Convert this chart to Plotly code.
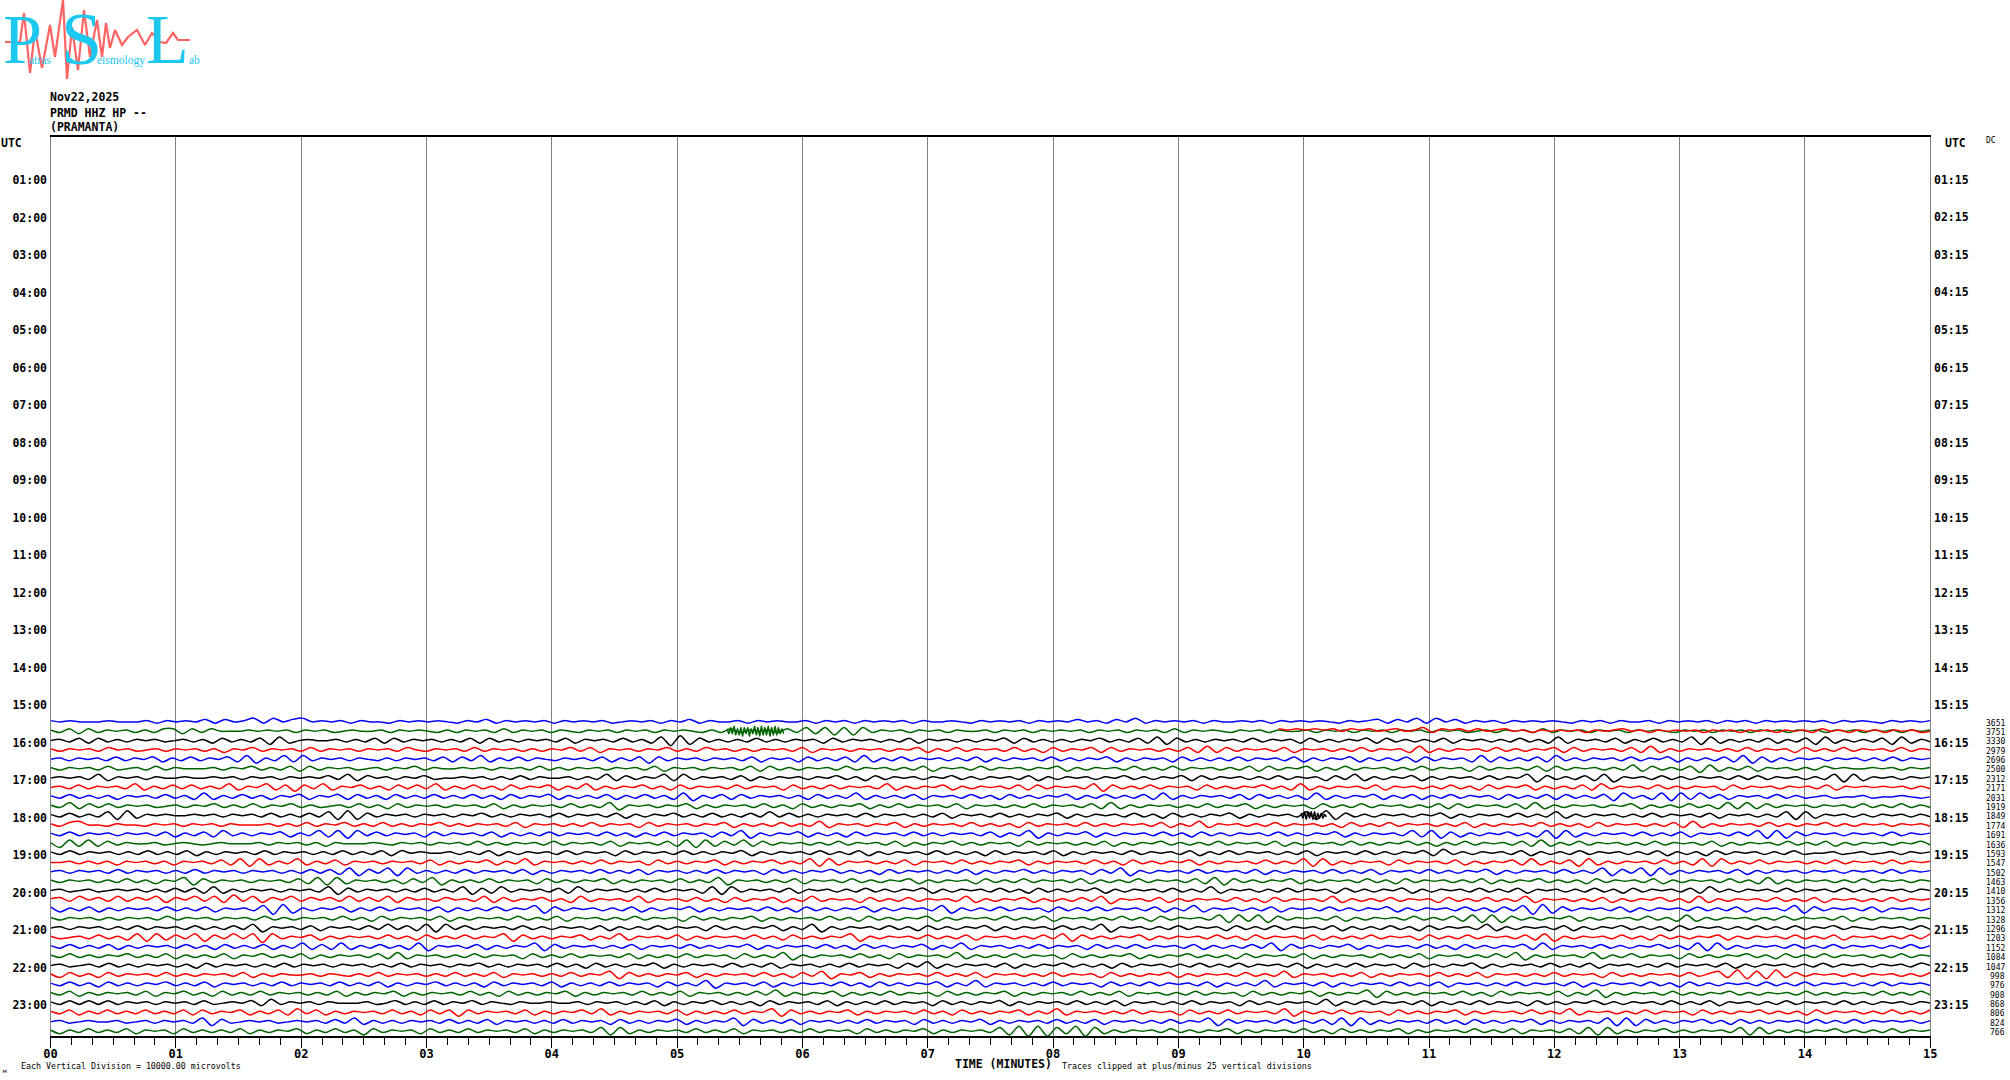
import plotly.graph_objects as go

# Trace amplitudes are rough visual estimates
# (1 unit = about 1 screen pixel, positive = up); they are not sample-accurate.
t00 = [1,0,1,0,0,0,1,0,0,0,1,-1,1,0,1,0,2,-1,2,0,1,3,-1,3,0,2,3,0,1,0,1,-1,1,0,0,-1,1,0,1,0,1,0,-1,1,0,2,-1,1,0,1,0,1,-1,1,0,1,0,1,-1,0,1,0,1,-1,1,0,2,-1,1,0,0,1,-1,1,0,1,0,0,1,-1,1,0,1,-1,1,0,1,0,1,-1,1,0,0,1,0,-1,1,0,1,0,1,-1,1,0,1,0,2,0,1,-1,2,0,3,-1,1,0,1,0,1,-1,1,0,0,1,0,1,-1,1,0,1,0,1,0,-1,1,0,1,2,-1,2,0,3,-1,3,0,2,-1,1,0,1,-1,1,0,1,0,1,0,-1,1,0,1,-1,1,0,0,1,-1,1,0,1,0,1,-1,1,0,1,-1,1,0,1,0,1,0,1,-1,1,0,1,0,-1,1,0,1,0,1]
t01 = [1,-1,2,-2,2,-1,1,0,1,-1,1,-1,2,2,-2,2,-1,2,0,0,0,1,0,1,0,1,-1,1,0,1,-1,0,1,0,0,1,-1,1,0,1,0,-1,1,-1,1,0,1,-1,2,-1,1,0,1,-1,1,0,-1,1,0,1,-1,1,0,1,-1,1,0,1,0,-1,1,-1,2,-1,1,0,1,-1,2,-1,3,-2,3,-3,3,-3,3,-1,1,0,1,-1,1,0,1,-1,1,0,0,1,-1,1,0,1,-1,1,0,1,0,1,-1,1,0,1,-1,1,0,1,-1,2,-1,1,0,1,0,-1,1,0,1,-1,1,0,0,1,-1,1,0,1,-1,1,0,1,-1,1,0,1,-1,1,0,1,-1,0,1,-1,1,0,1,-1,2,-1,1,0,1,-1,1,0,1,-1,1,0,1,0,-1,1,0,1,-1,1,0,1,-1,1,0,1,-1,1,0,1,-1,1,0,1,-1,1,0,1,-1,1,0,1]
t01_red = [2,1,2,1,2,1,2,0,2,1,2,0,1,2,0,1,3,-1,2,1,2,0,2,0,1,2,0,1,-1,1,0,1,0,1,-1,1,0,1,2,0,1,-1,1,0,1,0,1,-1,1,0,1,-1,1,0,1,-1,1,0,1,-1,2,0,1,-1,1,0,1,-1,1,0,1,-1,0]
t02 = [0,1,-1,2,-2,2,-1,1,-1,1,0,1,-1,0,1,-1,1,-2,2,-1,1,-1,2,-3,3,-2,0,1,0,0,1,-1,1,-1,2,-2,2,-1,1,0,1,-1,1,-1,2,-2,2,-1,1,-1,1,0,1,-1,2,-2,1,0,1,-1,2,-1,1,-2,3,-4,4,-3,2,-1,1,-1,1,-1,2,-1,1,-1,1,0,1,-2,2,-1,1,0,1,-1,1,-1,2,-2,1,0,1,-1,1,-1,1,0,2,-2,2,-1,1,-1,1,-1,1,0,2,-1,1,-1,2,-2,3,-3,2,-1,1,-1,1,0,1,-1,2,-1,1,0,1,-2,2,-1,1,-1,1,0,2,-2,2,-1,1,-1,1,-1,2,-2,1,0,1,-1,1,-1,2,-1,1,-2,3,-2,1,0,1,-1,2,-2,1,-1,2,-1,1,-1,3,-3,3,-2,1,-1,1,-1,2,-2,1,-1,2,-3,3,-2,1,-1,1,-1,2,-3,3,-2,1,-1]
t03 = [1,-1,1,0,1,-1,2,0,1,-1,0,1,-1,1,0,1,-1,1,-2,1,0,2,-1,1,0,1,-1,2,-1,1,0,1,-1,1,0,1,-1,2,0,-1,1,0,1,-1,2,-1,1,0,1,-1,1,-1,1,0,2,-1,2,-2,1,0,1,-1,1,0,2,-1,1,-1,2,0,1,-1,1,-1,1,0,1,-1,2,-2,1,0,1,-1,1,0,1,-1,1,0,2,-2,1,-1,2,-1,1,0,1,-1,2,-1,1,-2,2,-1,1,0,2,-2,2,-1,1,0,1,-1,1,-1,2,-2,3,-2,2,-1,1,0,1,-1,2,-2,1,0,1,-1,1,-1,2,-1,1,0,1,-2,3,-2,1,-1,1,0,1,-1,2,-1,1,-1,1,0,2,-2,2,-1,1,0,1,-1,2,-2,3,-2,1,-1,1,0,1,-1,1,-1,2,-1,1,0,1,-2,2,-1,1,-1,2,-1,1,0,1,-1,2,-1,1,0]
t04 = [0,1,-1,1,0,1,-1,2,-1,1,0,2,-2,1,-1,2,-1,1,0,2,-2,3,-3,1,-1,3,-2,3,-1,1,0,1,-1,1,0,-1,1,-1,1,0,1,-1,2,-2,2,-1,3,-2,1,-1,2,-1,1,0,-1,1,0,1,-1,2,-2,1,-1,2,-3,2,-1,1,0,1,-1,1,0,1,-1,2,-2,1,0,1,-2,2,-1,1,-1,2,-2,3,-2,1,-1,2,-1,1,0,1,-1,1,-1,2,-2,1,-1,1,0,1,-1,2,-1,1,-1,1,0,2,-2,1,-1,1,0,1,-2,2,-1,1,-1,1,-1,2,-1,1,0,1,-1,2,-2,1,-1,1,0,2,-2,1,-1,1,-1,2,-2,2,-1,1,0,1,-2,3,-2,2,-1,1,-1,2,-2,3,-1,1,-1,1,0,1,-1,2,-1,1,0,2,-2,1,-1,1,-1,2,-2,3,-3,2,-2,1,-1,1,0,1,-1,1,0,1,-1,1,-1,2,-1,1,0,1]
t05 = [1,-1,1,0,1,-1,2,-1,0,1,-1,2,-1,1,0,0,0,1,-1,1,0,2,-1,1,-1,2,-2,2,-1,1,0,1,-1,0,1,-1,1,0,2,-1,1,0,0,1,0,1,-1,1,0,1,-1,2,-1,1,-1,1,0,1,-1,1,0,1,-1,2,-2,1,0,1,-1,1,0,1,-1,2,-2,2,-1,1,-1,1,0,1,-1,2,-1,1,0,1,-1,1,-1,2,-2,1,0,1,-1,2,-1,1,0,1,-1,1,0,2,-2,1,-1,1,0,1,-1,2,-1,1,-1,2,-1,1,0,1,-1,1,-1,2,-2,2,-1,1,0,2,-2,1,-1,2,-1,1,0,1,-1,1,-1,2,-1,1,0,1,-2,2,-1,1,0,1,-1,2,-2,2,-1,1,0,1,-1,1,-1,3,-2,2,-1,1,-1,2,-3,3,-2,1,-1,2,-2,1,0,1,-1,1,-1,2,0,1,0,0,1,0,1,-1,1,0,1]
t06 = [0,1,0,1,-1,3,-2,1,0,1,-1,1,0,0,1,0,0,1,0,1,-1,1,0,1,-1,1,0,1,0,2,-1,3,-2,2,0,1,-1,1,0,2,-1,0,0,1,0,1,-1,1,-1,2,-1,1,0,0,1,-1,1,-1,3,-2,2,-1,1,0,3,-2,3,-1,1,0,1,-1,2,-2,1,-1,1,0,1,-1,1,0,2,-1,1,-2,2,-1,1,0,1,-1,1,0,2,-1,1,-1,1,0,1,-1,2,-2,1,-1,1,0,1,-1,1,0,2,-1,1,-1,1,0,2,-2,2,-1,1,0,1,-1,1,-1,2,-1,1,0,1,-2,2,-1,3,-2,1,-1,1,0,2,-2,1,-1,1,0,1,-1,2,-1,1,0,3,-3,2,-1,1,-1,2,-2,3,-3,1,0,1,-1,2,-1,1,-1,1,0,1,-1,2,-1,2,-1,1,0,1,-1,1,-1,3,-3,3,-2,1,0,1,-1,1,0,1]
t07 = [0,1,-1,2,-1,1,0,1,-1,3,-2,1,-1,2,-1,2,-1,1,-1,3,-2,1,0,3,-2,2,-3,2,-1,3,-2,1,0,2,-1,1,-2,2,-1,2,-1,3,-2,1,-1,2,-1,1,-2,2,-1,1,0,2,-2,1,-1,3,-2,1,-1,1,0,2,-1,1,-2,2,-1,1,0,1,-1,2,-1,1,0,1,-2,2,-1,1,-1,2,-1,1,0,1,-1,3,-2,1,-1,1,0,2,-2,1,-1,1,0,1,-1,2,-2,2,-1,1,0,1,-1,3,-3,2,-1,1,-1,2,-1,1,0,1,-2,2,-1,1,-1,1,0,2,-1,1,-2,3,-2,1,-1,1,0,1,-1,2,-2,1,0,1,-1,1,-1,2,-1,1,-2,2,-1,1,0,2,-2,1,-1,1,-1,2,-2,3,-1,1,0,1,-1,2,-1,1,-1,1,0,1,-2,2,-1,1,0,1,-1,1,0,1,-1,2,-2,1,0,1,0,1,0,1,-1,1,-1]
t08 = [1,-1,2,-1,1,-1,1,-2,1,0,1,-1,2,-1,1,-2,3,-2,1,-1,2,-1,1,-2,1,0,2,-2,1,0,2,-2,2,-1,1,-2,2,-1,1,-1,2,-1,1,-1,2,-1,1,-2,2,-1,1,0,2,-2,1,-1,1,-1,2,-2,1,-1,2,-1,1,-2,3,-3,1,-1,2,-2,2,-1,1,0,1,-1,1,-2,2,-1,1,-1,3,-2,1,-1,1,-1,2,-2,1,0,1,-1,2,-1,1,-2,2,-1,1,-1,1,0,2,-2,1,-1,2,-1,1,-1,2,-2,3,-2,1,-1,1,0,1,-1,2,-2,2,-1,1,-1,1,-2,3,-2,1,-1,1,0,2,-2,1,-1,2,-2,1,-1,2,-1,1,0,1,-2,2,-1,1,-1,2,-2,2,-1,1,-1,2,-3,3,-1,1,-2,3,-3,3,-2,3,-1,2,-2,1,0,1,-1,2,-1,1,-1,0,1,-1,0,0,1,-1,0,0,1,0,-1,0]
t09 = [1,-1,3,-2,2,-1,2,-1,1,0,1,-1,0,1,-1,1,0,2,-1,1,-1,2,-1,1,0,2,-1,1,-1,0,1,-1,2,-1,1,-2,2,-1,1,0,1,-1,1,0,1,-1,2,-2,1,-1,1,0,1,-1,2,-1,1,-1,3,-3,1,0,1,-1,1,0,2,-2,1,-1,1,0,1,-1,2,-1,1,-2,2,-1,1,-1,1,0,2,-2,1,-1,2,-1,1,0,1,-1,2,-2,1,0,1,-1,1,-1,2,-1,1,0,1,-1,2,-2,3,-2,1,-1,1,0,1,-1,1,-1,2,-1,1,0,2,-2,1,-1,1,0,1,-2,2,-1,1,-1,2,-1,1,0,1,-1,1,-1,2,-2,2,-1,1,0,1,-1,2,-2,3,-2,1,-1,1,0,1,-1,1,0,2,-2,1,-1,1,-1,2,-1,1,-2,3,-2,3,-2,2,-1,1,0,1,-1,1,0,1,-1,2,-1,1,-1,2,-1,1,-1]
t10 = [1,-1,2,-1,1,-1,3,-3,4,-2,1,0,1,0,0,1,0,1,-1,1,0,1,-1,2,-1,1,-1,2,-1,3,-3,4,-3,2,-1,1,0,1,-1,1,0,1,-1,1,0,2,-1,1,-1,1,0,1,-1,2,-1,1,0,1,-1,2,-2,1,-1,1,0,2,-1,1,-1,2,-1,1,-1,2,-1,3,-1,2,-1,1,-1,1,0,1,-1,2,-1,1,0,1,-1,1,-1,2,-2,1,0,1,-1,2,-1,1,-1,1,0,2,-2,1,-1,1,0,1,-1,2,-1,1,-2,2,-1,1,-1,1,0,2,-2,1,-1,1,0,1,-1,3,-3,4,-3,2,-1,1,-1,1,0,1,-1,1,0,2,-2,1,-1,1,0,1,-1,2,-1,1,-1,3,-2,1,-1,1,0,1,-1,1,-1,2,-1,1,0,1,-1,2,-2,1,0,1,-1,1,-1,3,-3,3,-2,1,0,1,-1,1,-1,1,0,1,-1,1,-1]
t10_burst = [2,-2,3,-3,3,-2,3,-3,3,-3,2,-2,2,-2,1,-1]
t11 = [1,-1,2,3,0,0,-1,1,0,0,-1,1,0,1,-1,1,0,1,-1,1,0,0,0,1,-1,1,-1,2,-1,1,0,2,-1,1,-1,2,-1,1,-1,1,0,2,-1,1,-1,1,0,1,-1,2,-2,1,0,1,-1,1,-1,2,-1,1,0,1,-2,2,-1,1,0,1,-1,1,0,2,-2,1,-1,1,-1,2,-1,1,-1,3,-2,1,0,1,-1,1,0,2,-2,1,-1,1,0,1,-1,2,-1,1,-1,1,-2,2,-1,1,0,1,-1,2,-1,1,-1,1,0,1,-1,2,-2,1,-1,3,-2,1,0,1,-1,1,-1,2,-1,1,0,1,-1,1,-2,2,-1,1,-1,2,-1,1,0,1,-1,1,-1,2,-2,1,-1,1,0,1,-1,2,-1,1,-1,1,-2,2,-1,1,0,1,-1,1,-1,2,-2,3,-2,1,-1,1,0,1,-1,2,-1,1,-1,1,0,2,-1,1,-1,1,0,1,-1,1,0,1,-1]
t12 = [1,-1,2,-1,1,0,1,-1,1,0,1,-1,2,-2,1,-1,2,-2,3,-1,1,-1,1,0,2,-2,1,-1,3,-2,3,-3,3,-1,2,-1,1,0,1,-2,2,-1,1,0,1,-1,2,-2,1,-1,1,-1,2,-1,1,0,1,-1,2,-1,1,-2,1,-1,2,-1,1,0,1,-2,2,-1,3,-3,1,-1,1,0,2,-2,1,-1,1,-2,2,-1,1,0,1,-1,2,-1,1,-1,1,0,1,-1,2,-2,1,-1,3,-3,1,-1,1,0,2,-2,1,-1,1,0,1,-1,2,-1,1,-2,2,-1,1,-1,1,0,1,-1,2,-1,1,-1,1,0,2,-2,1,-1,1,0,1,-1,3,-2,3,-3,2,-2,1,-1,1,0,2,-1,1,-2,3,-3,3,-2,1,-1,1,0,1,-1,2,-1,1,-1,2,-2,1,0,1,-1,2,-1,3,-3,3,-3,2,-1,1,0,1,-1,1,0,1,-1,2,-1,1,0,1]
t13 = [1,-3,3,-2,3,-2,2,-1,1,0,0,1,-1,0,1,0,-1,0,1,0,0,0,1,-1,1,0,1,-1,1,-2,1,0,0,0,1,0,-1,1,0,1,-1,1,0,1,-1,2,-1,1,-1,1,0,1,-1,2,-1,1,0,1,-1,2,-2,1,0,1,-1,2,-2,3,-3,3,-2,2,-1,3,-2,2,-1,1,0,1,-1,1,-1,2,-1,1,0,1,-1,2,-2,1,-1,1,0,2,-1,1,-1,1,0,1,-2,2,-1,1,0,1,-1,1,-1,2,-2,1,-1,1,0,2,-1,1,-1,1,-1,2,-1,1,0,1,-1,2,-2,1,-1,1,0,1,-1,2,-1,1,-1,1,0,2,-1,1,-2,1,-1,2,-1,1,0,1,-1,2,-2,3,-2,1,-1,2,-1,1,0,1,-1,1,-1,2,-1,1,0,1,-1,2,-2,1,-1,1,0,1,-1,2,-1,1,-1,2,-2,1,-1,1,0,1,-1,1,0,2,-1]
t14 = [1,-1,2,-1,1,0,1,-1,1,-1,2,-1,1,-1,2,-2,1,-1,1,0,1,-1,2,-1,1,0,1,-1,1,-1,2,-1,1,-1,2,-2,2,0,1,0,0,1,-1,1,-1,2,-2,1,-1,1,0,1,-1,2,-1,1,0,1,-2,2,-1,1,0,1,-1,2,-1,1,-1,1,0,2,-2,1,-1,1,0,1,-1,2,-1,1,-1,2,-2,1,-1,1,0,1,-1,2,-1,1,-1,1,-2,2,-1,1,0,1,-1,2,-2,1,-1,1,0,1,-1,2,-1,1,0,1,-1,2,-2,1,-1,2,-1,1,0,1,-1,1,-1,2,-2,1,0,1,-1,2,-1,1,-1,1,0,2,-2,3,-1,1,-1,1,0,1,-1,2,-2,1,-1,1,-1,2,-1,1,0,1,-1,1,-1,2,-2,1,-1,1,-2,2,-1,1,0,1,-1,1,-1,2,-1,0,0,1,-1,0,1,-1,0,1,-1,1,0,1]
t15 = [0,0,1,-1,1,-1,1,-2,1,0,1,-1,1,-2,1,0,1,-1,2,-2,3,-3,3,-2,1,-1,3,-2,1,-1,2,-2,1,0,1,-1,1,0,1,-1,2,-2,1,-1,1,0,2,-2,1,-1,3,-2,1,0,1,-1,1,-1,2,-1,1,0,1,-2,2,-1,1,-1,1,0,2,-2,1,-1,1,0,2,-1,1,-1,3,-3,3,-2,1,0,1,-1,1,-1,2,-2,1,0,1,-1,2,-1,1,-1,1,0,2,-2,1,-1,1,0,1,-1,2,-1,1,-2,2,-1,1,-1,1,0,2,-2,1,-1,1,0,1,-1,2,-1,1,-1,3,-3,3,-2,1,-1,1,0,1,-2,2,-1,1,0,1,-1,2,-2,1,-1,1,0,2,-2,3,-2,1,-1,2,-3,3,-2,1,-1,1,0,1,-1,2,-1,1,-2,3,-3,3,-1,1,-1,2,-1,1,0,1,-1,1,-1,2,-1,1,0,1,-1,2,-1,1,0,1]
t16 = [0,1,-1,1,0,1,-1,2,-1,1,0,1,-1,1,-1,2,-1,1,0,1,-1,1,0,1,-1,1,-1,2,-1,2,-2,3,-3,2,-1,3,-3,3,-1,1,-1,1,-1,2,-1,1,0,1,-1,2,-2,1,-1,1,0,1,-1,2,-1,1,-1,2,-2,1,0,1,-1,1,-1,2,-1,1,0,1,-2,2,-1,1,-1,1,0,2,-1,1,-1,1,-2,2,-1,1,0,1,-1,1,-1,2,-2,1,-1,1,0,2,-1,1,-1,1,0,1,-2,2,-1,3,-3,1,-1,1,0,1,-1,2,-1,1,0,1,-1,2,-2,1,-1,1,0,1,-1,2,-1,1,-1,2,-2,1,0,1,-1,2,-1,1,-1,1,0,2,-2,1,-1,1,0,1,-1,2,-1,1,-1,3,-3,2,-1,3,-3,3,-2,1,-1,1,0,1,-1,2,-2,1,-1,1,0,1,-1,1,0,1,-1,1,0,1,-1,2,-1,1,0,1]
t17 = [1,-1,1,0,1,-1,1,-1,2,-1,1,-2,1,0,3,-3,2,-1,1,0,1,-1,1,0,1,-1,2,-2,3,-3,3,-2,1,0,1,-1,1,-2,2,-1,3,-3,1,-1,1,-1,2,-1,1,0,1,-2,2,-1,1,-1,1,0,2,-2,1,-1,1,0,1,-1,2,-1,1,-1,3,-3,1,0,1,-1,1,-1,2,-2,1,0,1,-1,2,-1,1,-1,1,0,2,-2,1,-1,1,0,1,-2,2,-1,1,-1,2,-1,1,0,1,-1,2,-2,1,-1,1,-1,2,-1,1,0,1,-1,2,-2,3,-3,2,-1,1,-1,1,0,2,-2,1,-1,1,0,1,-1,2,-1,1,-2,2,-1,1,0,1,-1,1,-1,2,-2,1,-1,1,0,2,-1,1,-1,1,-2,2,-1,1,0,1,-1,2,-2,1,-1,1,0,1,-1,2,-1,1,-2,3,-2,1,-1,1,0,1,-1,1,-1,2,-1,1,0,1,-1,1,0]
t18 = [0,1,-1,0,1,-1,0,1,0,1,-1,1,-1,2,-1,2,-2,3,-2,1,-1,1,0,1,-1,1,0,1,-1,3,-3,2,-1,1,0,1,-1,1,-1,2,-1,1,-1,3,-3,2,-2,3,-1,1,0,1,-1,2,-2,3,-1,1,0,1,-1,1,-1,2,-1,1,0,1,-2,3,-3,3,-1,1,0,1,-1,2,-2,1,0,1,-1,1,-1,2,-1,1,-1,1,0,2,-2,1,-1,1,0,1,-1,2,-1,1,-2,2,-1,1,-1,1,0,2,-2,1,-1,1,0,1,-1,2,-1,1,-1,3,-2,1,0,1,-1,1,-1,2,-1,1,0,1,-2,2,-1,1,-1,1,0,2,-2,1,-1,1,0,1,-1,2,-1,1,-1,2,-2,1,0,1,-1,1,-1,2,-1,1,-2,2,-1,1,0,1,-1,2,-2,3,-1,1,-1,1,0,1,-1,2,-1,1,0,1,-1,2,-1,1,-1,1,0,1,-1,1,0]
t19 = [1,2,-1,3,0,2,-1,3,-1,2,0,3,-2,2,0,3,-1,3,-2,4,-1,3,-2,2,0,3,-1,2,0,2,-1,3,-1,2,-1,3,-2,2,0,1,-1,2,0,1,-1,3,-2,2,-1,1,0,2,-1,1,-2,3,-1,1,0,1,-1,3,-2,1,0,1,-1,2,-1,1,-2,2,-1,1,0,2,-2,1,-1,3,-1,1,0,1,-2,2,-1,1,-1,2,-1,1,0,1,-1,3,-2,1,-1,1,0,2,-2,1,-1,1,-1,2,-1,3,-3,1,0,1,-1,2,-2,1,-1,1,0,1,-1,2,-1,1,-2,2,-1,1,0,1,-1,3,-2,1,-1,1,-1,2,-1,1,0,1,-2,2,-1,1,-1,2,-1,1,-1,3,-2,1,0,1,-1,1,-1,2,-2,1,-1,1,0,2,-1,1,-2,3,-2,1,-1,1,0,1,-1,2,-1,1,-1,2,-2,1,0,1,-1,1,-1,2,-1,1,0,1]
t20 = [2,-2,1,-1,2,-2,1,-1,1,0,1,-1,2,-1,1,-1,2,-2,1,0,1,-1,3,-4,4,-3,1,-1,1,0,2,-2,1,-1,2,-1,1,0,1,-1,2,-2,1,-1,1,-1,2,-1,1,0,3,-3,2,-1,1,0,1,-1,1,-1,2,-2,1,-1,1,0,2,-2,1,-1,1,0,1,-1,2,-1,1,-2,2,-1,1,-1,1,0,2,-2,1,-1,1,0,1,-1,3,-3,1,-1,1,-1,2,-1,1,0,1,-2,2,-1,1,-1,2,-1,1,0,1,-1,2,-2,1,-1,3,-2,1,0,1,-1,1,-1,2,-2,1,0,1,-1,2,-1,1,-1,1,0,2,-2,1,-1,1,0,1,-1,2,-1,1,-2,2,-1,3,-4,4,-3,2,-1,1,0,1,-1,2,-2,1,-1,1,0,1,-1,2,-1,1,-1,2,-2,1,0,1,-1,3,-3,2,-1,1,0,1,-1,2,-2,1,0,1,-1,1]
t21 = [1,-1,1,0,1,-1,1,-1,1,0,1,-1,2,-1,1,0,1,-1,1,0,1,-1,2,-1,1,-1,1,0,1,-1,2,-1,1,-2,2,-1,1,0,1,-1,2,-2,1,-1,1,0,1,-1,2,-1,1,-1,2,-2,1,0,1,-1,1,-1,2,-1,1,0,1,-2,2,-1,1,-1,1,0,2,-2,1,-1,1,0,1,-1,2,-1,1,-2,2,-1,1,-1,1,0,2,-2,1,-1,1,0,1,-1,2,-1,1,-1,2,-2,1,0,1,-1,1,-1,2,-1,1,-2,2,-1,1,0,1,-1,3,-3,3,-2,3,-3,2,-1,1,0,1,-1,2,-2,1,-1,1,0,1,-1,2,-1,1,-1,2,-2,3,-3,3,-3,2,-1,1,-1,1,0,2,-2,1,-1,1,0,1,-1,2,-1,1,-2,3,-2,1,-1,1,0,1,-1,1,-1,2,-1,1,0,1,-1,2,-2,1,-1,1,0,1,-1,1,0]
t22 = [0,1,-1,1,0,1,-1,1,-1,2,-1,1,0,1,-1,2,-1,1,-1,2,-1,3,-3,1,0,1,-1,2,-2,1,0,1,-1,2,-1,3,-1,2,-2,3,-3,3,-1,2,-1,1,0,1,-1,2,-1,1,-1,1,0,1,-1,2,-2,1,-1,1,-1,2,-1,1,0,1,-2,2,-1,1,-1,1,0,2,-2,1,-1,3,-3,1,-1,1,0,1,-1,2,-1,1,-2,2,-1,1,-1,1,0,2,-2,1,-1,1,0,1,-1,2,-1,1,-1,3,-3,1,0,1,-1,1,-1,2,-1,1,0,1,-2,2,-1,1,-1,2,-1,1,0,1,-1,2,-2,1,-1,1,-1,2,-1,1,-2,2,-1,1,0,1,-1,3,-2,1,-1,1,0,1,-1,2,-2,1,-1,1,0,2,-1,1,-1,1,-2,2,-1,1,0,1,-1,1,-1,2,-1,1,-1,2,-1,1,0,2,-1,1,0,-1,1,0,1,-1,2,-1]
t23 = [1,-1,0,1,-1,2,-1,1,-2,3,-3,3,-2,2,-1,3,-3,2,-1,3,-1,3,-4,3,-1,1,0,2,-2,1,-1,1,0,1,-1,2,-1,1,-2,2,-1,1,-1,2,-1,1,0,3,-3,2,-1,1,-1,1,0,2,-2,1,-1,3,-2,1,0,1,-1,2,-2,1,-1,1,0,1,-1,2,-1,1,-2,2,-1,1,-1,1,0,3,-3,1,-1,1,0,1,-1,2,-1,1,-1,2,-2,1,0,1,-1,1,-1,2,-1,3,-3,2,-1,1,-1,1,0,2,-2,1,-1,1,0,1,-1,2,-1,1,-2,2,-1,1,0,1,-1,2,-2,1,-1,1,-1,2,-1,1,0,1,-2,2,-1,1,-1,2,-1,1,0,1,-1,2,-2,3,-3,1,-1,1,0,1,-1,2,-1,1,-2,2,-1,1,-1,1,0,2,-2,1,-1,1,0,1,-1,2,-1,1,-1,2,-2,1,0,1,-1,1,-1,2,-1,3]
t24 = [1,-1,2,-1,1,-1,2,-2,1,-1,1,0,1,-1,2,-1,1,-2,2,-1,1,-1,2,-2,1,-1,3,-2,2,-2,3,-2,1,-1,2,-1,1,-2,3,-3,1,0,1,-1,2,-2,1,-1,1,0,3,-3,2,-1,1,0,1,-1,1,-1,2,-2,1,0,1,-1,2,-1,1,-1,1,0,2,-2,1,-1,1,0,1,-1,2,-1,1,-2,2,-1,1,-1,1,0,2,-2,1,-1,3,-2,1,0,1,-1,1,-1,2,-1,1,0,1,-2,2,-1,1,-1,2,-1,1,0,1,-1,2,-2,1,-1,1,-1,2,-1,3,-3,2,-1,1,-1,1,0,2,-2,1,-1,1,0,1,-1,2,-1,1,-2,2,-1,1,-1,1,0,2,-2,3,-2,1,0,1,-1,2,-1,1,-1,1,0,2,-1,1,-2,3,-3,3,-2,1,-1,1,0,1,-1,2,-1,1,-1,2,-1,1,0,1,-1,1,-1,2,-1,1]
t25 = [1,-1,2,-1,1,-1,1,0,2,-1,1,-1,2,-2,1,-1,1,-1,2,-2,1,0,2,-1,1,-1,2,-2,1,-1,1,0,1,-1,2,-2,3,-2,1,0,1,-1,1,-1,2,-1,1,0,1,-2,2,-1,1,-1,2,-1,1,0,1,-1,2,-2,1,-1,1,-1,2,-1,1,0,1,-2,2,-1,1,-1,3,-3,1,-1,1,0,1,-1,2,-1,1,-2,2,-1,1,0,1,-1,3,-2,1,-1,1,-1,2,-1,1,0,1,-2,2,-1,1,-1,1,0,2,-2,1,-1,1,0,2,-1,1,-1,1,-2,2,-1,1,0,1,-1,2,-2,1,-1,1,0,1,-1,2,-1,1,-1,2,-2,1,0,1,-1,1,-1,2,-1,3,-3,1,-1,1,0,1,-1,3,-2,1,-1,2,-1,1,0,1,-2,2,-1,1,-1,1,0,2,-1,1,-2,2,-1,1,-1,2,-1,1,0,1,-1,1,-1,2,-1,1,0]
t26 = [0,1,-1,0,1,-1,2,-1,1,-1,1,0,1,-1,1,-2,2,-1,1,0,1,-1,1,-1,2,-1,1,0,1,-1,1,0,1,-1,1,-1,2,-1,1,0,1,-1,1,0,2,-1,1,-1,1,0,1,-1,2,-1,1,-2,2,-1,1,-1,1,0,2,-2,1,-1,1,0,1,-1,2,-1,1,-1,2,-2,1,0,1,-1,1,-1,2,-1,1,0,1,-2,2,-1,3,-2,1,-1,1,0,1,-1,2,-2,1,-1,1,0,2,-1,1,-1,1,-2,2,-1,1,0,1,-1,1,-1,2,-1,1,-1,2,-1,1,0,1,-1,2,-2,1,-1,1,-1,2,-1,1,0,1,-2,2,-1,1,-1,1,0,2,-2,1,-1,1,0,1,-1,2,-1,1,-1,2,-2,1,0,1,-1,1,-1,2,-1,1,0,1,-1,2,-2,1,-1,1,0,1,-1,1,-1,2,-1,1,0,1,-1,1,0,1,-1,2,0]
t27 = [1,-2,2,-1,1,-2,2,-1,1,0,1,-1,2,-1,1,-1,1,0,1,-1,2,-2,1,-1,1,0,0,1,-1,1,0,-1,1,-1,2,-1,1,0,1,-1,1,-1,2,-1,1,-1,2,-2,1,0,1,-1,1,-1,2,-1,1,0,3,-3,2,-1,1,-1,1,0,2,-2,1,-1,1,0,1,-1,2,-1,1,-2,2,-1,3,-3,1,0,2,-2,1,-1,1,0,1,-1,2,-1,1,-1,2,-2,1,0,1,-1,1,-1,2,-1,1,0,1,-2,2,-1,1,-1,1,0,2,-2,1,-1,1,0,1,-1,2,-1,1,-1,3,-2,1,0,1,-1,1,-1,2,-2,1,-1,1,0,1,-1,2,-1,1,-1,2,-2,1,0,1,-1,1,-1,2,-1,1,0,1,-2,2,-1,1,-1,1,0,1,-1,2,-1,1,3,-2,4,-3,3,-3,4,-2,2,-1,1,0,1,-1,1,-1,1,0,1,-1,1,-1,2]
t28 = [1,-1,2,-1,1,-2,2,-1,1,-1,1,0,2,-1,1,-1,2,-2,1,0,1,-1,1,-1,2,-1,1,0,1,-1,2,-1,1,-1,2,-2,1,-1,1,0,2,-1,1,-1,1,-2,2,-1,1,0,1,-1,2,-2,1,-1,1,-1,2,-1,1,0,1,-2,2,-1,1,-1,3,-3,1,0,1,-1,2,-2,1,-1,1,0,1,-1,2,-1,1,-2,2,-1,1,-1,1,0,2,-2,1,-1,3,-2,1,0,1,-1,1,-1,2,-1,1,0,1,-2,2,-1,1,-1,2,-1,1,0,1,-1,2,-2,1,-1,1,-1,3,-2,1,0,1,-1,2,-2,1,-1,1,0,1,-1,2,-1,1,-1,2,-2,1,0,1,-1,1,-1,2,-1,1,0,1,-1,2,-2,1,-1,1,0,1,-1,2,-1,1,-2,2,-1,1,-1,1,0,1,-1,2,-1,1,-1,2,-1,1,0,1,-1,1,-1,2,-1,1,0,1,-1]
t29 = [1,-1,2,-2,1,-1,1,0,1,-1,2,-2,1,0,2,-1,1,-2,2,-1,1,-1,2,-1,1,0,1,-1,1,-1,2,-2,1,-1,1,0,2,-2,1,-1,1,0,1,-1,2,-1,1,-2,2,-1,1,-1,1,0,2,-2,1,-1,1,0,1,-1,2,-1,1,-1,2,-2,1,0,1,-1,1,-1,2,-1,3,-2,1,-1,1,0,2,-2,1,-1,1,-1,2,-1,1,0,1,-2,2,-1,1,-1,1,0,2,-2,1,-1,1,0,1,-1,2,-1,1,-1,2,-2,1,0,1,-1,1,-1,2,-1,1,0,1,-2,2,-1,1,-1,1,0,2,-2,1,-1,1,0,3,-3,2,-1,1,-1,1,0,1,-1,2,-1,1,-2,2,-1,1,0,1,-1,2,-2,1,-1,3,-3,1,-1,1,0,1,-1,2,-1,1,-1,1,0,2,-1,1,-1,1,0,1,-1,2,-1,1,-1,1,0,1,-1,2,-1,1,-1,2,-1]
t30 = [1,-1,2,-1,2,-1,2,-1,1,0,1,-1,1,0,1,-1,2,-1,0,1,0,2,-2,3,-1,1,0,1,-1,1,0,0,0,1,-1,0,2,-1,1,-1,2,-1,1,0,2,-1,1,0,-1,1,0,0,1,0,0,1,-1,1,0,1,-1,1,-1,2,-2,1,-1,1,0,2,-1,1,-1,1,-2,2,-1,1,0,1,-1,2,-2,1,-1,1,-1,2,-1,1,0,1,-2,2,-1,1,-1,1,0,2,-2,1,-1,1,0,1,-1,2,-1,1,-1,2,-2,1,0,1,-1,1,-1,2,-1,1,0,1,-2,2,-1,1,-1,1,0,1,-1,3,-2,1,-1,2,-1,1,0,1,-1,2,-2,1,-1,1,-1,2,-1,1,0,1,-2,2,-1,1,-1,1,0,2,-1,1,-1,1,0,1,-1,2,-1,1,-1,2,-2,1,0,1,-1,1,-1,2,-1,1,0,1,-1,2,-1,1,-1,1,0,1,-1,1,0]
t31 = [1,-1,2,-2,1,-1,2,-1,1,-1,2,-1,1,-1,2,-2,2,-1,1,0,2,-2,1,-1,2,-2,3,-1,2,-2,1,-1,1,0,1,-1,2,-1,1,-2,2,-1,2,-3,2,-1,1,0,1,-1,2,-2,1,-1,1,0,2,-1,3,-2,1,-1,1,0,1,-1,2,-2,1,-1,1,-1,2,-1,1,0,3,-3,2,-1,1,-1,1,0,2,-2,1,-1,1,0,1,-1,2,-1,1,-2,2,-1,1,-1,1,0,2,-2,1,-1,3,-2,1,0,1,-1,1,-1,2,-1,1,0,1,-2,2,-1,1,-1,2,-1,1,0,1,-1,3,-3,1,-1,1,-1,2,-1,1,0,1,-2,2,-1,1,-1,1,0,2,-2,1,-1,1,0,1,-1,2,-1,1,-1,3,-2,1,0,1,-1,1,-1,2,-1,1,0,1,-2,2,-1,1,-1,1,0,2,-1,1,-1,1,-2,2,-1,1,0,1,-1,1,-1,2,-1,1,-1,2]
t32 = [0,1,-1,0,1,0,0,1,-1,0,1,-1,1,0,1,-1,3,-3,2,-1,0,1,0,1,-1,0,1,0,1,-1,2,-1,3,-2,1,-1,1,-1,1,0,1,-1,2,-1,1,-1,2,-2,1,0,1,-1,1,-1,2,-1,1,0,1,-2,2,-1,1,-1,1,0,2,-2,1,-1,1,0,3,-3,2,-1,1,-1,2,-2,1,0,1,-1,1,-1,2,-1,1,0,1,-2,2,-1,1,-1,1,0,2,-2,1,-1,1,0,1,-1,2,-1,1,-1,2,-2,1,0,1,-1,1,-1,2,-1,1,0,3,-3,2,-1,1,0,1,-1,2,-1,1,-1,2,-2,3,-3,3,-2,1,-1,1,0,1,-1,2,-1,1,-2,2,-1,1,-1,1,0,2,-2,1,-1,1,0,1,-1,3,-3,3,-3,2,-1,1,-1,1,0,2,-1,1,-2,2,-1,1,-1,1,0,1,-1,2,-1,1,-1,2,-1,1,0,1,0,1,-1,1]
t33 = [1,-2,1,-1,2,-1,1,-1,2,-2,1,0,1,-2,2,-1,1,-1,1,-1,2,-2,1,-1,1,0,2,-2,1,-1,2,-1,1,-3,2,-1,1,0,1,-2,2,-1,1,-1,2,-1,1,0,1,-1,2,-2,1,-1,1,0,1,-1,3,-3,3,-2,1,-1,1,0,1,-1,2,-1,1,-1,2,-2,1,0,1,-1,1,-1,2,-1,1,0,1,-2,2,-1,1,-1,1,0,2,-2,1,-1,1,0,1,-1,3,-3,4,-4,4,-4,3,-2,4,-4,3,-2,1,-1,1,0,1,-1,2,-1,1,-1,1,0,2,-2,1,-1,1,0,1,-1,2,-1,1,-2,2,-1,1,-1,1,0,2,-2,1,-1,1,0,1,-1,2,-1,1,-1,2,-2,1,0,1,-1,2,-2,3,-3,3,-2,1,-1,1,0,2,-1,1,-1,1,0,1,-1,3,-3,3,-2,1,-1,1,-1,1,0,2,-1,1,-1,1,-1,2,-1,1,0,1]
t01_burst = [2,-2,3,-2,4,-3,2,-3,3,-4,3,-2,3,-4,2,-2,4,-3,3,-4,4,-3,3,-3,4,-4,3,-3,4,-3,3,-2,2,-2]
counts = ["3651","3751","3330","2979","2696","2500","2312","2171","2031","1919","1849","1774","1691","1636","1593","1547","1502","1463","1410","1356","1312","1328","1296","1203","1152","1084","1047","998","976","908","868","806","824","766"]
hour_labels = [f"{h:02d}:00" for h in range(1, 24)]
right_labels = [f"{h:02d}:15" for h in range(1, 24)]
minute_labels = [f"{m:02d}" for m in range(16)]
logo_x = [5,20,24,30,35,42,50,55,63,67,72,78,84,90,97,102,106,110,115,122,128,137,145,152,160,166,173,178,190]
logo_y = [42,42,13,73,30,68,25,57,0,79,27,70,10,57,20,57,23,48,30,45,37,30,45,33,42,43,33,40,40]

W, H, L, R, T, B = 2010, 1080, 50.5, 1930.3, 136.5, 1036
px_per_hour = 37.5
Y0 = 142.5
y_top = (T - Y0) / px_per_hour
y_bot = (B - Y0) / px_per_hour
BASE, STEP = 15.45, 0.25
AMP = 1.25
COLORS = ["#0000ff", "#006400", "#000000", "#ff0000"]
MONO = "DejaVu Sans Mono"
CYAN = "#1cc8f0"

rows = [t00,t01,t02,t03,t04,t05,t06,t07,t08,t09,t10,t11,t12,t13,t14,t15,t16,t17,
        t18,t19,t20,t21,t22,t23,t24,t25,t26,t27,t28,t29,t30,t31,t32,t33]

fig = go.Figure()
LW = 1.5

def add_trace(vals, row, x0, x1, color):
    n = len(vals)
    xs = [x0 + (x1 - x0) * i / (n - 1) for i in range(n)]
    ys = [BASE + STEP * row - AMP * v / px_per_hour for v in vals]
    fig.add_trace(go.Scatter(x=xs, y=ys, mode="lines",
                             line=dict(color=color, width=LW, shape="spline", smoothing=0.8),
                             hoverinfo="skip", showlegend=False))

for r, vals in enumerate(rows):
    add_trace(vals, r, 0, 15, COLORS[r % 4])
add_trace(t01_red, 1, 9.8, 15, "#ff0000")
add_trace(t01_burst, 1, 5.4, 5.85, "#006400")
add_trace(t10_burst, 10, 9.98, 10.18, "#000000")
fig.add_trace(go.Scatter(x=logo_x, y=logo_y, xaxis="x3", yaxis="y3", mode="lines",
                         line=dict(color="#ff6464", width=2.2), hoverinfo="skip", showlegend=False))

def label(x, y, text, size, anchor="left", bold=False, family=MONO, color="#000000"):
    t = f"<b>{text}</b>" if bold else text
    fig.add_annotation(xref="paper", yref="paper", x=x / W, y=1 - y / H, text=t, showarrow=False,
                       xanchor=anchor, yanchor="middle", borderpad=0,
                       font=dict(family=family, size=size, color=color))

label(49, 97, "Nov22,2025", 11.5, bold=True)
label(49, 113, "PRMD HHZ HP --", 11.5, bold=True)
label(49, 127, "(PRAMANTA)", 11.5, bold=True)
label(0, 143, "UTC", 11.5, bold=True)
label(1944, 143, "UTC", 11.5, bold=True)
label(1985, 140, "DC", 8)
label(20, 1066, "Each Vertical Division = 10000.00 microvolts", 8.3)
label(2, 1070, "м", 6)
label(954, 1064, "TIME (MINUTES)", 11.5, bold=True)
label(1061, 1066, "Traces clipped at plus/minus 25 vertical divisions", 8.3)

for i, txt in enumerate(right_labels):
    label(1933, Y0 + px_per_hour * (i + 1), txt, 11.5, bold=True)
for r, txt in enumerate(counts):
    label(2006, 722 + 9.385 * r + 1, txt, 8, anchor="right")

SERIF = "Liberation Serif"
label(2, 40, "P", 70, family=SERIF, color=CYAN)
label(60, 39, "S", 74, family=SERIF, color=CYAN)
label(145, 40, "L", 70, family=SERIF, color=CYAN)
label(28, 60, "atras", 11.5, family=SERIF, color=CYAN)
label(96, 60, "eismology", 11.5, family=SERIF, color=CYAN)
label(188, 60, "ab", 11.5, family=SERIF, color=CYAN)

fig.update_layout(
    width=W, height=H, autosize=False, margin=dict(l=0, r=0, t=0, b=0, pad=0),
    paper_bgcolor="#ffffff", plot_bgcolor="#ffffff", showlegend=False, hovermode=False,
    xaxis=dict(domain=[L / W, R / W], range=[0, 15], tickmode="array", automargin=False,
               tickvals=list(range(16)), ticktext=minute_labels, ticks="outside", ticklen=10,
               ticklabelstandoff=-4,
               tickcolor="#000000", tickwidth=1.3, showgrid=True, gridcolor="#808080", gridwidth=1.3,
               showline=True, linecolor="#000000", linewidth=1.5, mirror=True, zeroline=False,
               tickfont=dict(family=MONO, size=12, color="#000000", weight="bold"),
               minor=dict(tickmode="linear", tick0=0, dtick=1 / 6, ticks="outside", ticklen=7,
                          tickcolor="#000000", tickwidth=1, showgrid=False)),
    yaxis=dict(domain=[1 - B / H, 1 - T / H], range=[y_bot, y_top], tickmode="array", automargin=False,
               tickvals=[h for h in range(1, 24)], ticktext=hour_labels, ticks="", showgrid=False,
               showline=True, linecolor="#808080", linewidth=1.3, mirror=True, zeroline=False,
               tickfont=dict(family=MONO, size=11.5, color="#000000", weight="bold")),
    xaxis3=dict(domain=[0, 200 / W], range=[0, 200], visible=False, fixedrange=True, anchor="y3", automargin=False),
    yaxis3=dict(domain=[1 - 80 / H, 1], range=[80, 0], visible=False, fixedrange=True, anchor="x3", automargin=False),
)

fig.write_html("out.html", config={"displayModeBar": False},
               post_script="document.body.style.margin='0';document.documentElement.style.overflow='hidden';")
